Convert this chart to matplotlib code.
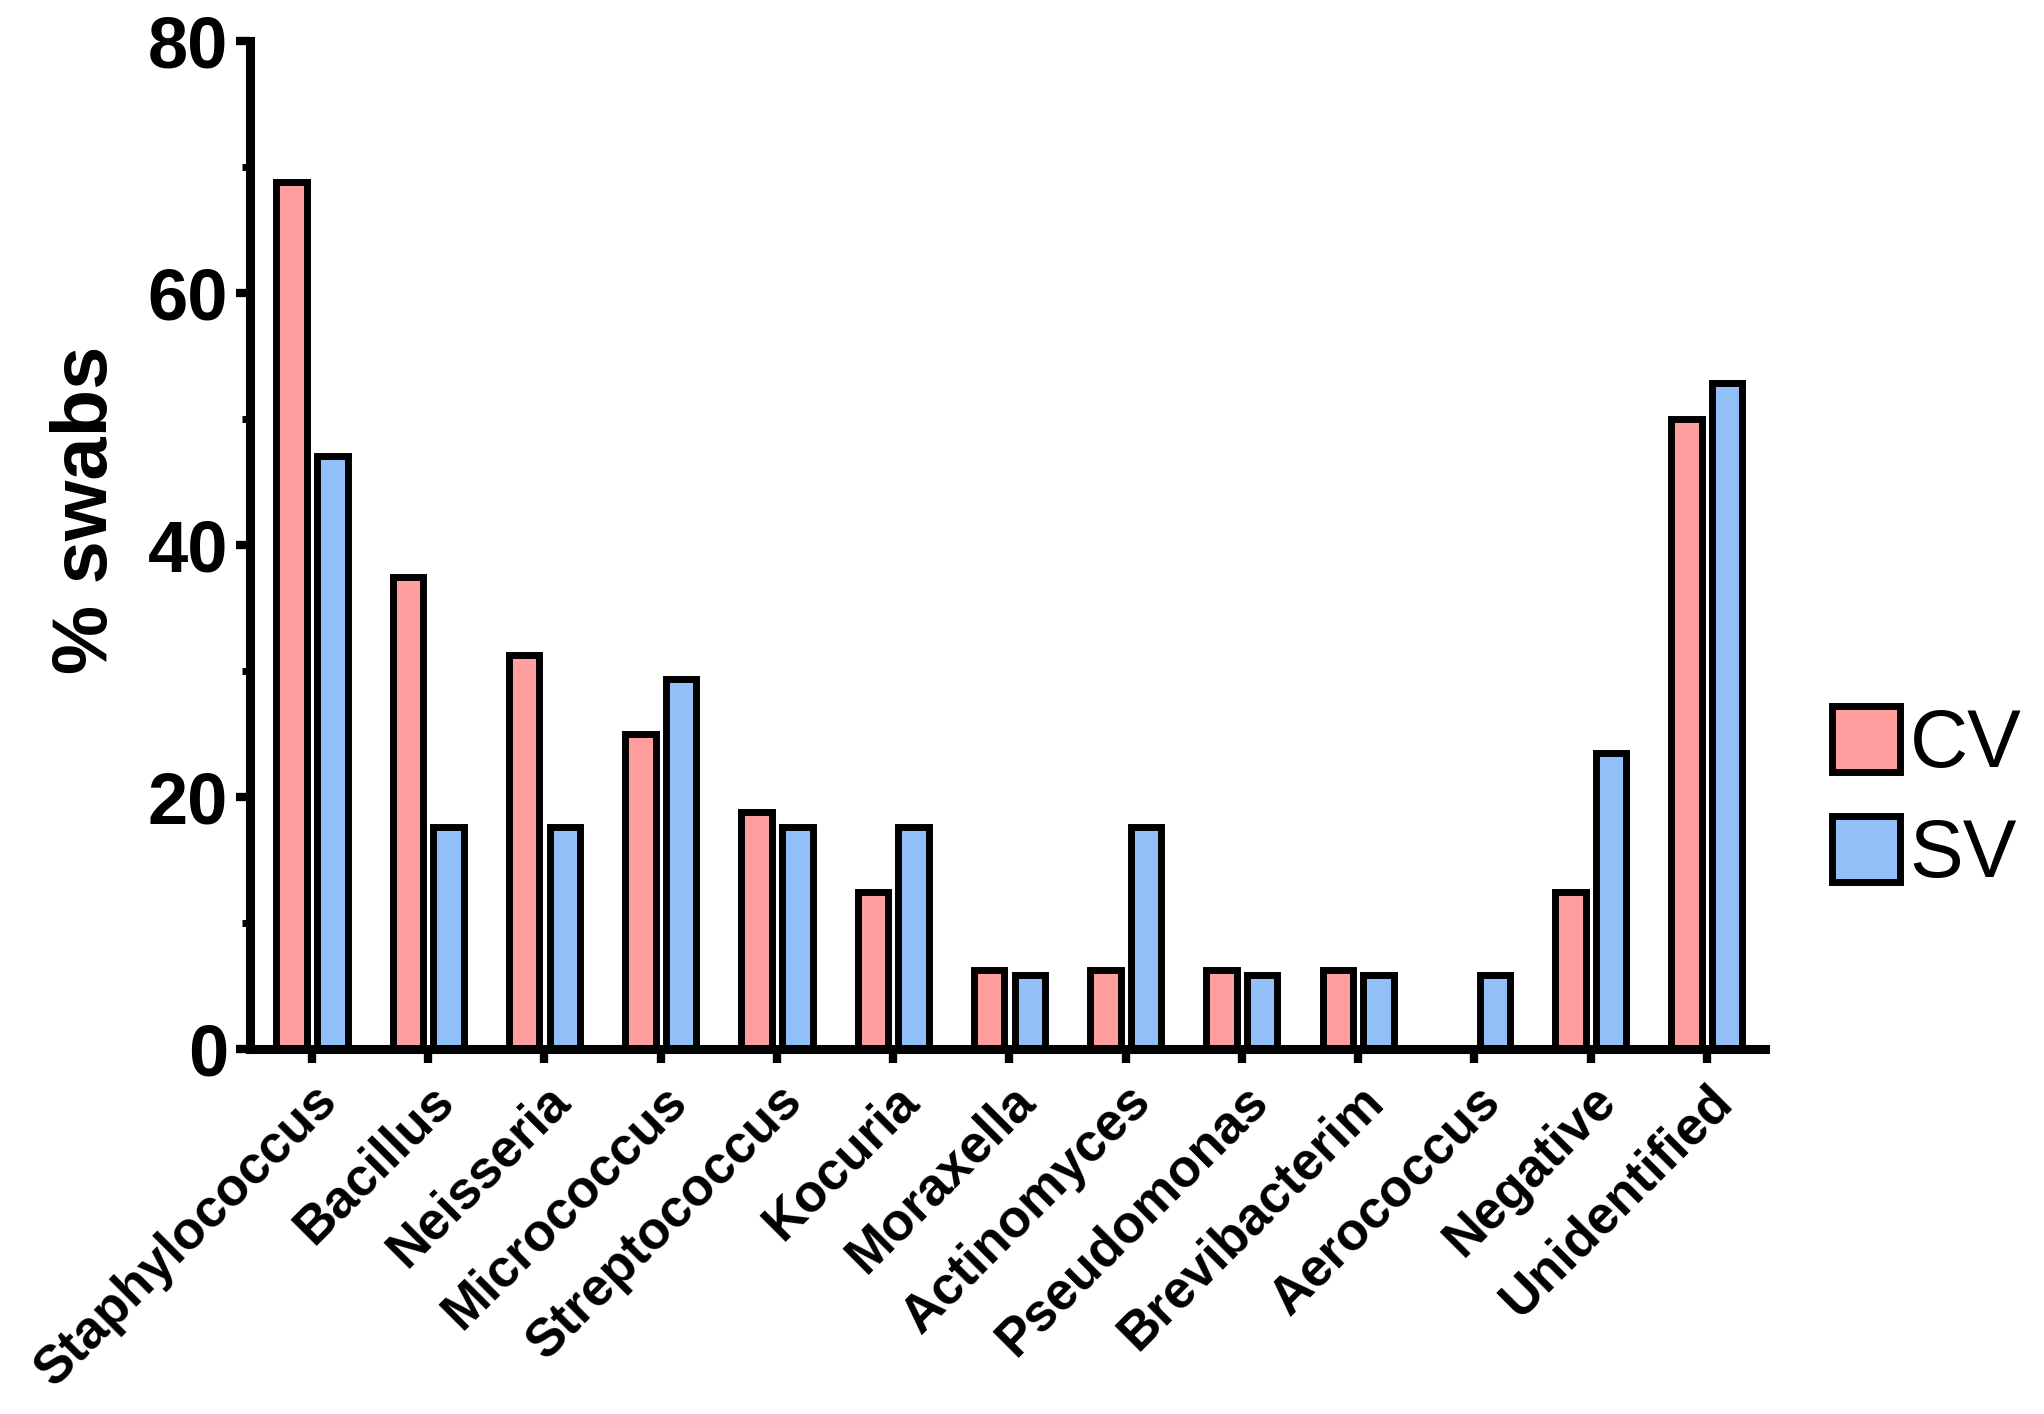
import matplotlib

matplotlib.use("Agg")
import matplotlib.pyplot as plt
import matplotlib.transforms as mtransforms
import numpy as np
from matplotlib.patches import Patch

# Data
genera = [
    "Staphylococcus", "Bacillus", "Neisseria", "Micrococcus", "Streptococcus",
    "Kocuria", "Moraxella", "Actinomyces", "Pseudomonas", "Brevibacterim",
    "Aerococcus", "Negative", "Unidentified",
]
cv_pct = [68.8, 37.5, 31.3, 25.0, 18.8, 12.5, 6.3, 6.3, 6.3, 6.3, 0.0, 12.5, 50.0]
sv_pct = [47.1, 17.6, 17.6, 29.4, 17.6, 17.6, 5.9, 17.6, 5.9, 5.9, 5.9, 23.5, 52.9]
series = ["CV", "SV"]
colors = ["#FF9E9E", "#91BFF7"]

plt.rcParams["font.family"] = ["Liberation Sans", "DejaVu Sans"]

fig = plt.figure(figsize=(20.44, 14.14), dpi=100)
ax = fig.add_axes([0.1225, 0.258, 0.741, 0.713])

x = np.arange(len(genera))
w = 0.262
off = 0.175
edge_lw = 5.0
ax.bar(x - off, cv_pct, w, color=colors[0], edgecolor="black", linewidth=edge_lw, zorder=2)
ax.bar(x + off, sv_pct, w, color=colors[1], edgecolor="black", linewidth=edge_lw, zorder=2)

ax.set_xlim(-0.53, 12.5)
ax.set_ylim(0, 80)
ax.set_yticks([0, 20, 40, 60, 80])
ax.set_yticks([10, 30, 50, 70], minor=True)
ax.set_xticks(x)
ax.set_xticklabels(genera, rotation=45, ha="right", rotation_mode="anchor",
                   fontsize=38, fontweight="bold")
# nudge the slanted labels a little left, like the original
shift = mtransforms.ScaledTranslation(-0.14, 0, fig.dpi_scale_trans)
for lab in ax.get_xticklabels():
    lab.set_transform(lab.get_transform() + shift)

for s in ["top", "right"]:
    ax.spines[s].set_visible(False)
for s in ["left", "bottom"]:
    ax.spines[s].set_linewidth(6.5)
    ax.spines[s].set_zorder(3)
    ax.spines[s].set_capstyle("projecting")

ax.tick_params(axis="y", which="major", length=10, width=6, labelsize=52, pad=6)
ax.tick_params(axis="y", which="minor", length=6, width=5)
ax.tick_params(axis="x", which="major", length=10, width=6, pad=9)
for lab in ax.get_yticklabels():
    lab.set_fontweight("bold")

ax.set_ylabel("% swabs", fontsize=56, fontweight="bold")
ax.yaxis.set_label_coords(-0.084, 0.535)

handles = [Patch(facecolor=c, edgecolor="black", linewidth=5, label=l)
           for c, l in zip(colors, series)]
ax.legend(handles=handles, loc="center left", bbox_to_anchor=(1.044, 0.2475),
          frameon=False, fontsize=58, handlelength=0.85, handleheight=0.88,
          handletextpad=0.12, labelspacing=0.4, borderpad=0, borderaxespad=0)

fig.savefig("out.png", dpi=100, facecolor="white")
